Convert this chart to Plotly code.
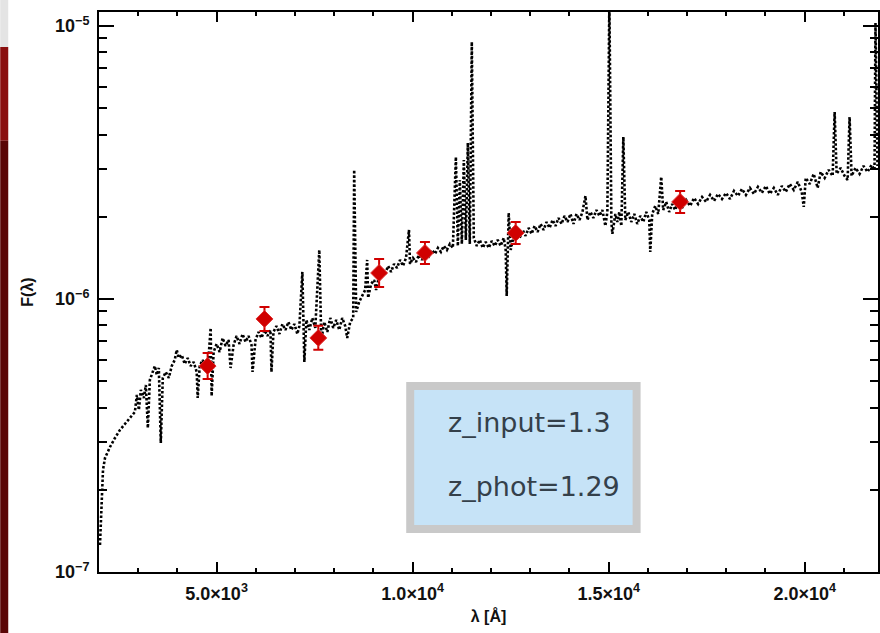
import plotly.graph_objects as go

# ---------------- data ----------------
wave_A = [2025, 2051, 2076, 2102, 2153, 2280, 2407, 2534, 2661, 2788, 2915, 2966, 3017, 3068, 3144, 3195,
          3246, 3297, 3373, 3424, 3475, 3526, 3576, 3627, 3704, 3780, 3856, 3932, 3983, 4034, 4110, 4187,
          4263, 4339, 4415, 4492, 4517, 4568, 4644, 4721, 4797, 4848, 4873, 4924, 5000, 5077, 5153, 5229,
          5305, 5356, 5433, 5509, 5585, 5661, 5738, 5814, 5890, 5916, 5992, 6068, 6144, 6221, 6297, 6373,
          6399, 6450, 6526, 6602, 6678, 6755, 6831, 6907, 6983, 7060, 7111, 7187, 7238, 7289, 7365, 7441,
          7517, 7619, 7670, 7746, 7823, 7899, 7975, 8051, 8128, 8204, 8280, 8331, 8407, 8484, 8509, 8560,
          8636, 8712, 8789, 8840, 8865, 8941, 9018, 9068, 9145, 9221, 9297, 9374, 9450, 9526, 9602, 9679,
          9755, 9831, 9907, 9933, 10009, 10085, 10162, 10238, 10340, 10416, 10492, 10569, 10645, 10721,
          10797, 10874, 10950, 11026, 11103, 11153, 11204, 11255, 11306, 11357, 11408, 11458, 11509, 11560,
          11636, 11713, 11789, 11865, 11942, 12018, 12094, 12170, 12247, 12323, 12374, 12399, 12450, 12501,
          12577, 12653, 12730, 12806, 12882, 12959, 13035, 13111, 13187, 13264, 13340, 13416, 13493, 13569,
          13645, 13721, 13798, 13874, 13950, 14026, 14103, 14179, 14255, 14332, 14408, 14459, 14535, 14611,
          14688, 14764, 14840, 14916, 14967, 15018, 15069, 15094, 15171, 15222, 15272, 15323, 15374, 15425,
          15501, 15577, 15654, 15730, 15806, 15883, 15959, 16035, 16061, 16111, 16188, 16264, 16340, 16391,
          16467, 16544, 16620, 16696, 16773, 16874, 16976, 17078, 17179, 17281, 17383, 17484, 17586, 17688,
          17790, 17891, 17993, 18095, 18196, 18298, 18400, 18501, 18603, 18705, 18807, 18908, 19010, 19112,
          19213, 19315, 19417, 19518, 19620, 19722, 19824, 19925, 19976, 20027, 20129, 20230, 20332, 20408,
          20510, 20612, 20713, 20764, 20815, 20917, 21018, 21095, 21145, 21196, 21298, 21400, 21501, 21603,
          21705, 21781, 21806, 21857]

# flux in units of 1e-7
flux_1e7 = [1.256, 1.550, 1.915, 2.364, 2.616, 2.870, 3.096, 3.313, 3.484, 3.665, 3.855, 4.450, 3.922, 4.642,
            4.339, 4.842, 3.369, 5.050, 5.403, 5.683, 5.268, 5.588, 2.968, 5.136, 5.403, 5.136, 5.683, 5.978,
            6.505, 6.080, 6.236, 5.780, 6.080, 5.683, 5.878, 5.403, 4.339, 5.683, 5.978, 5.495, 6.183, 7.830,
            4.412, 6.396, 6.843, 6.396, 7.196, 6.728, 7.077, 5.588, 6.785, 7.318, 6.843, 7.442, 6.959, 7.318,
            6.785, 5.403, 7.077, 7.569, 7.196, 7.699, 7.318, 7.699, 5.403, 7.569, 7.963, 7.442, 8.098, 7.699,
            8.237, 7.699, 8.098, 7.442, 7.963, 12.56, 5.878, 8.377, 7.699, 8.519, 7.830, 15.12, 7.077, 8.237,
            7.569, 8.519, 7.830, 8.377, 7.699, 8.519, 7.963, 7.196, 8.237, 8.519, 29.69, 8.963, 9.750, 10.26,
            10.79, 13.90, 10.09, 11.35, 11.74, 10.79, 12.14, 12.77, 12.35, 13.21, 12.56, 13.44, 12.99, 13.90,
            13.21, 14.13, 17.89, 13.44, 14.13, 13.66, 14.50, 13.90, 14.87, 14.37, 15.12, 14.62, 15.38, 14.87,
            15.64, 15.12, 15.91, 15.38, 33.13, 15.64, 27.29, 15.91, 32.30, 16.45, 37.28, 15.91, 87.38, 16.73,
            15.64, 16.45, 15.38, 16.18, 15.38, 16.31, 15.64, 16.45, 15.64, 16.73, 15.12, 10.26, 20.65, 15.12,
            17.02, 17.60, 16.73, 17.89, 17.02, 18.20, 17.31, 18.51, 17.60, 18.82, 17.89, 19.14, 18.20, 19.47,
            18.51, 19.80, 18.82, 20.14, 19.14, 20.48, 18.82, 20.48, 19.47, 20.83, 23.84, 19.47, 20.83, 19.80,
            21.18, 20.14, 21.18, 18.51, 20.83, 124.5, 19.14, 17.31, 20.48, 19.14, 20.83, 18.51, 39.22, 19.47,
            20.83, 19.14, 20.48, 18.82, 20.14, 19.14, 20.83, 19.47, 14.87, 20.48, 21.91, 20.48, 27.99, 21.18,
            22.67, 20.83, 22.28, 21.18, 22.67, 21.54, 23.04, 21.91, 23.44, 22.28, 23.64, 22.67, 24.04, 22.86,
            24.25, 23.24, 24.45, 23.24, 24.87, 23.84, 25.29, 24.04, 25.50, 24.25, 25.72, 24.45, 25.94, 24.25,
            25.50, 24.04, 25.94, 24.66, 26.38, 25.08, 26.83, 24.66, 21.73, 27.75, 26.38, 28.71, 25.50, 29.19,
            27.75, 29.69, 28.22, 48.42, 28.71, 30.20, 28.22, 27.29, 46.42, 28.22, 30.20, 28.71, 30.71, 29.19,
            30.96, 29.69, 102.6, 30.71]

phot_wave_A = [4771, 6221, 7594, 9145, 10314, 12628, 16823]
phot_flux_1e7 = [5.68, 8.45, 7.20, 12.45, 14.74, 17.45, 22.67]
phot_err_up_1e7 = [0.66, 0.90, 0.77, 1.56, 1.43, 1.70, 2.21]
phot_err_dn_1e7 = [0.59, 0.81, 0.69, 1.39, 1.31, 1.55, 2.01]

x_tick_vals = [5000, 10000, 15000, 20000]
x_tick_text = ["5.0×10<sup>3</sup>", "1.0×10<sup>4</sup>", "1.5×10<sup>4</sup>", "2.0×10<sup>4</sup>"]
y_tick_vals = [1e-7, 1e-6, 1e-5]
y_tick_text = ["10<sup>−7</sup>", "10<sup>−6</sup>", "10<sup>−5</sup>"]
y_minor_vals = [m * d for d in (1e-7, 1e-6) for m in range(2, 10)]

box_lines = ["z_input=1.3", "z_phot=1.29"]

SCALE = 1e-7
flux = [v * SCALE for v in flux_1e7]
phot_flux = [v * SCALE for v in phot_flux_1e7]
phot_up = [v * SCALE for v in phot_err_up_1e7]
phot_dn = [v * SCALE for v in phot_err_dn_1e7]

fig = go.Figure()
fig.add_trace(go.Scatter(
    x=wave_A, y=flux, mode="lines",
    line=dict(color="black", width=2.6, dash="2.5px,2px"),
    showlegend=False, hoverinfo="skip"))
fig.add_trace(go.Scatter(
    x=phot_wave_A, y=phot_flux, mode="markers",
    marker=dict(symbol="diamond", size=13, color="#d00000",
                line=dict(color="#e03030", width=1)),
    error_y=dict(type="data", symmetric=False, array=phot_up, arrayminus=phot_dn,
                 color="#d00000", thickness=2, width=5),
    showlegend=False))

tick_font = dict(family="Liberation Sans, Arial, sans-serif", size=18, color="#111111", weight="bold")
title_font = dict(family="Liberation Sans, Arial, sans-serif", size=16, color="#111111", weight="bold")

fig.update_layout(
    width=880, height=633,
    margin=dict(l=99, r=0, t=12, b=61),
    paper_bgcolor="white", plot_bgcolor="white",
    xaxis=dict(
        range=[2000, 21870], showgrid=False, zeroline=False,
        showline=True, linecolor="black", linewidth=2, mirror="ticks",
        ticks="inside", ticklen=10, tickwidth=2, tickcolor="black",
        tickvals=x_tick_vals, ticktext=x_tick_text, tickfont=tick_font,
        ticklabelstandoff=4,
        minor=dict(ticks="inside", ticklen=4, tickwidth=2, tickcolor="black", dtick=1000, tick0=0),
        title=dict(text="λ [Å]", font=title_font, standoff=8),
    ),
    yaxis=dict(
        type="log", range=[-7, -4.949], showgrid=False, zeroline=False,
        showline=True, linecolor="black", linewidth=2, mirror="ticks",
        ticks="inside", ticklen=15, tickwidth=2, tickcolor="black",
        tickvals=y_tick_vals, ticktext=y_tick_text, tickfont=tick_font,
        ticklabelstandoff=4,
        minor=dict(ticks="inside", ticklen=8, tickwidth=2, tickcolor="black", tickvals=y_minor_vals),
        title=dict(text="F(λ)", font=title_font, standoff=17),
    ),
    shapes=[
        # left decorative strip
        dict(type="rect", xref="paper", yref="paper", x0=-0.1268, x1=-0.1165, y0=0.9375, y1=1.03,
             fillcolor="#e4e4e4", line=dict(width=0), layer="above"),
        dict(type="rect", xref="paper", yref="paper", x0=-0.1268, x1=-0.1165, y0=0.77, y1=0.9375,
             fillcolor="#8a0f0f", line=dict(width=0), layer="above"),
        dict(type="rect", xref="paper", yref="paper", x0=-0.1268, x1=-0.1165, y0=-0.11, y1=0.77,
             fillcolor="#5a0606", line=dict(width=0), layer="above"),
        # info box
        dict(type="rect", xref="paper", yref="paper", x0=0.3995, x1=0.6901, y0=0.0768, y1=0.3321,
             fillcolor="#c6e3f7", line=dict(color="#c9c9c9", width=8), layer="above"),
    ],
    annotations=[
        dict(xref="paper", yref="paper", x=0.4456, y=0.2661, xanchor="left", yanchor="middle",
             text=box_lines[0], showarrow=False,
             font=dict(family="DejaVu Sans, Liberation Sans, Arial", size=27, color="#34404a")),
        dict(xref="paper", yref="paper", x=0.4456, y=0.1518, xanchor="left", yanchor="middle",
             text=box_lines[1], showarrow=False,
             font=dict(family="DejaVu Sans, Liberation Sans, Arial", size=27, color="#34404a")),
    ],
)

fig.write_html("out.html")
